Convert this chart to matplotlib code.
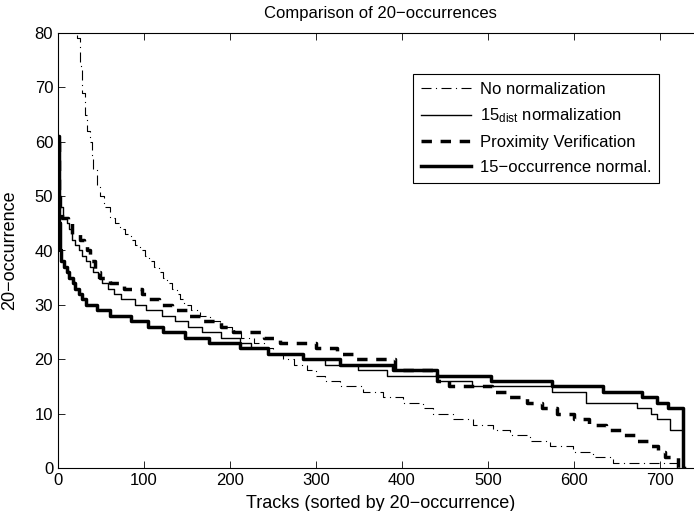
import matplotlib
matplotlib.use('Agg')
import matplotlib.pyplot as plt

plt.rcParams['font.family'] = ['Liberation Sans', 'DejaVu Sans']
plt.rcParams['mathtext.default'] = 'regular'

# step data: (start of step on x, value)
x_nonorm = [0, 10, 18, 22, 25, 28, 31, 34, 37, 39, 41, 45, 49, 54, 60, 66, 72, 78, 85, 90,
            95, 101, 106, 112, 117, 122, 127, 132, 138, 142, 146, 155, 165, 177, 188, 202,
            213, 228, 240, 250, 262, 275, 290, 300, 310, 328, 355, 378, 401, 425, 436, 459,
            483, 506, 526, 549, 572, 599, 622, 645, 722, 730]
y_nonorm = [140, 100, 86, 79, 74, 69, 65, 62, 60, 57, 55, 52, 50, 48, 46, 45, 44, 43, 42, 41,
            40, 39, 38, 37, 36, 35, 34, 33, 32, 31, 30, 29, 28, 27, 26, 25,
            24, 23, 22, 21, 20, 19, 18, 17, 16, 15, 14, 13, 12, 11, 10, 9,
            8, 7, 6, 5, 4, 3, 2, 1, 0, 0]

x_dist = [0, 1, 3, 6, 10, 13, 16, 20, 24, 28, 33, 37, 41, 46, 51, 58, 65, 73, 89, 102, 121,
          136, 151, 167, 190, 212, 225, 244, 285, 310, 349, 383, 441, 481, 574, 614, 673,
          690, 697, 712, 727, 728]
y_dist = [60, 50, 48, 46, 45, 44, 42, 41, 40, 39, 38, 37, 36, 35, 34, 33, 32, 31, 30, 29, 28,
          27, 26, 25, 24, 23, 22, 21, 20, 19, 18, 17, 16, 15, 14, 12, 11,
          10, 9, 7, 0, 0]

x_prox = [0, 1, 5, 12, 16, 26, 30, 34, 37, 43, 49, 60, 77, 98, 106, 118, 133, 150, 165, 190,
          203, 240, 258, 300, 325, 343, 392, 441, 455, 505, 525, 545, 563, 580, 600, 618,
          637, 655, 672, 687, 698, 706, 721, 722]
y_prox = [60, 48, 46, 45, 43, 42, 41, 40, 38, 36, 35, 34, 33, 32, 31, 30, 29, 28, 27, 26,
          25, 24, 23, 22, 21, 20, 18, 16, 15, 14, 13, 12, 11, 10, 9, 8,
          7, 6, 5, 4, 3, 2, 0, 0]

x_occ = [0, 1, 2, 3, 7, 10, 13, 17, 20, 24, 28, 33, 45, 60, 85, 105, 122, 148, 176, 212, 244,
         285, 328, 390, 441, 504, 574, 634, 679, 697, 709, 727, 728]
y_occ = [61, 45, 40, 38, 37, 36, 35, 34, 33, 32, 31, 30, 29, 28, 27, 26, 25, 24, 23, 22, 21,
         20, 19, 18, 17, 16, 15, 14, 13, 12, 11, 0, 0]

fig = plt.figure(figsize=(6.94, 5.11), dpi=100)
ax = fig.add_axes([58 / 694, 43 / 511, 645 / 694, 435 / 511])

ax.plot(x_nonorm, y_nonorm, color='k', lw=0.8, ls=(0, (9, 4, 1, 4)), drawstyle='steps-post',
        label='No normalization')
ax.plot(x_dist, y_dist, color='k', lw=1.0, ls='-', drawstyle='steps-post',
        label='15$_{dist}$ normalization')
ax.plot(x_prox, y_prox, color='k', lw=2.5, ls=(0, (3, 2.5)), drawstyle='steps-post',
        label='Proximity Verification')
ax.plot(x_occ, y_occ, color='k', lw=2.5, ls='-', drawstyle='steps-post',
        label='15\u2212occurrence normal.')

ax.set_xlim(0, 750)
ax.set_ylim(0, 80)
ax.set_xticks(range(0, 701, 100))
ax.set_yticks(range(0, 81, 10))
ax.tick_params(direction='in', top=True, right=True, labelsize=12, length=5, width=0.6)
for s in ax.spines.values():
    s.set_linewidth(0.8)

ax.set_title('Comparison of 20\u2212occurrences', fontsize=12, pad=11)
ax.set_xlabel('Tracks (sorted by 20\u2212occurrence)', fontsize=13, labelpad=5)
ax.set_ylabel('20\u2212occurrence', fontsize=13, labelpad=12)

leg = ax.legend(loc='upper left', bbox_to_anchor=(413 / 694, 1 - 74 / 511),
                bbox_transform=fig.transFigure, borderaxespad=0, fontsize=12,
                handlelength=3.0, handletextpad=0.55, labelspacing=0.6, borderpad=0.45,
                fancybox=False, framealpha=1, edgecolor='k')
leg.get_frame().set_linewidth(0.8)

fig.savefig('out.png', dpi=100)
